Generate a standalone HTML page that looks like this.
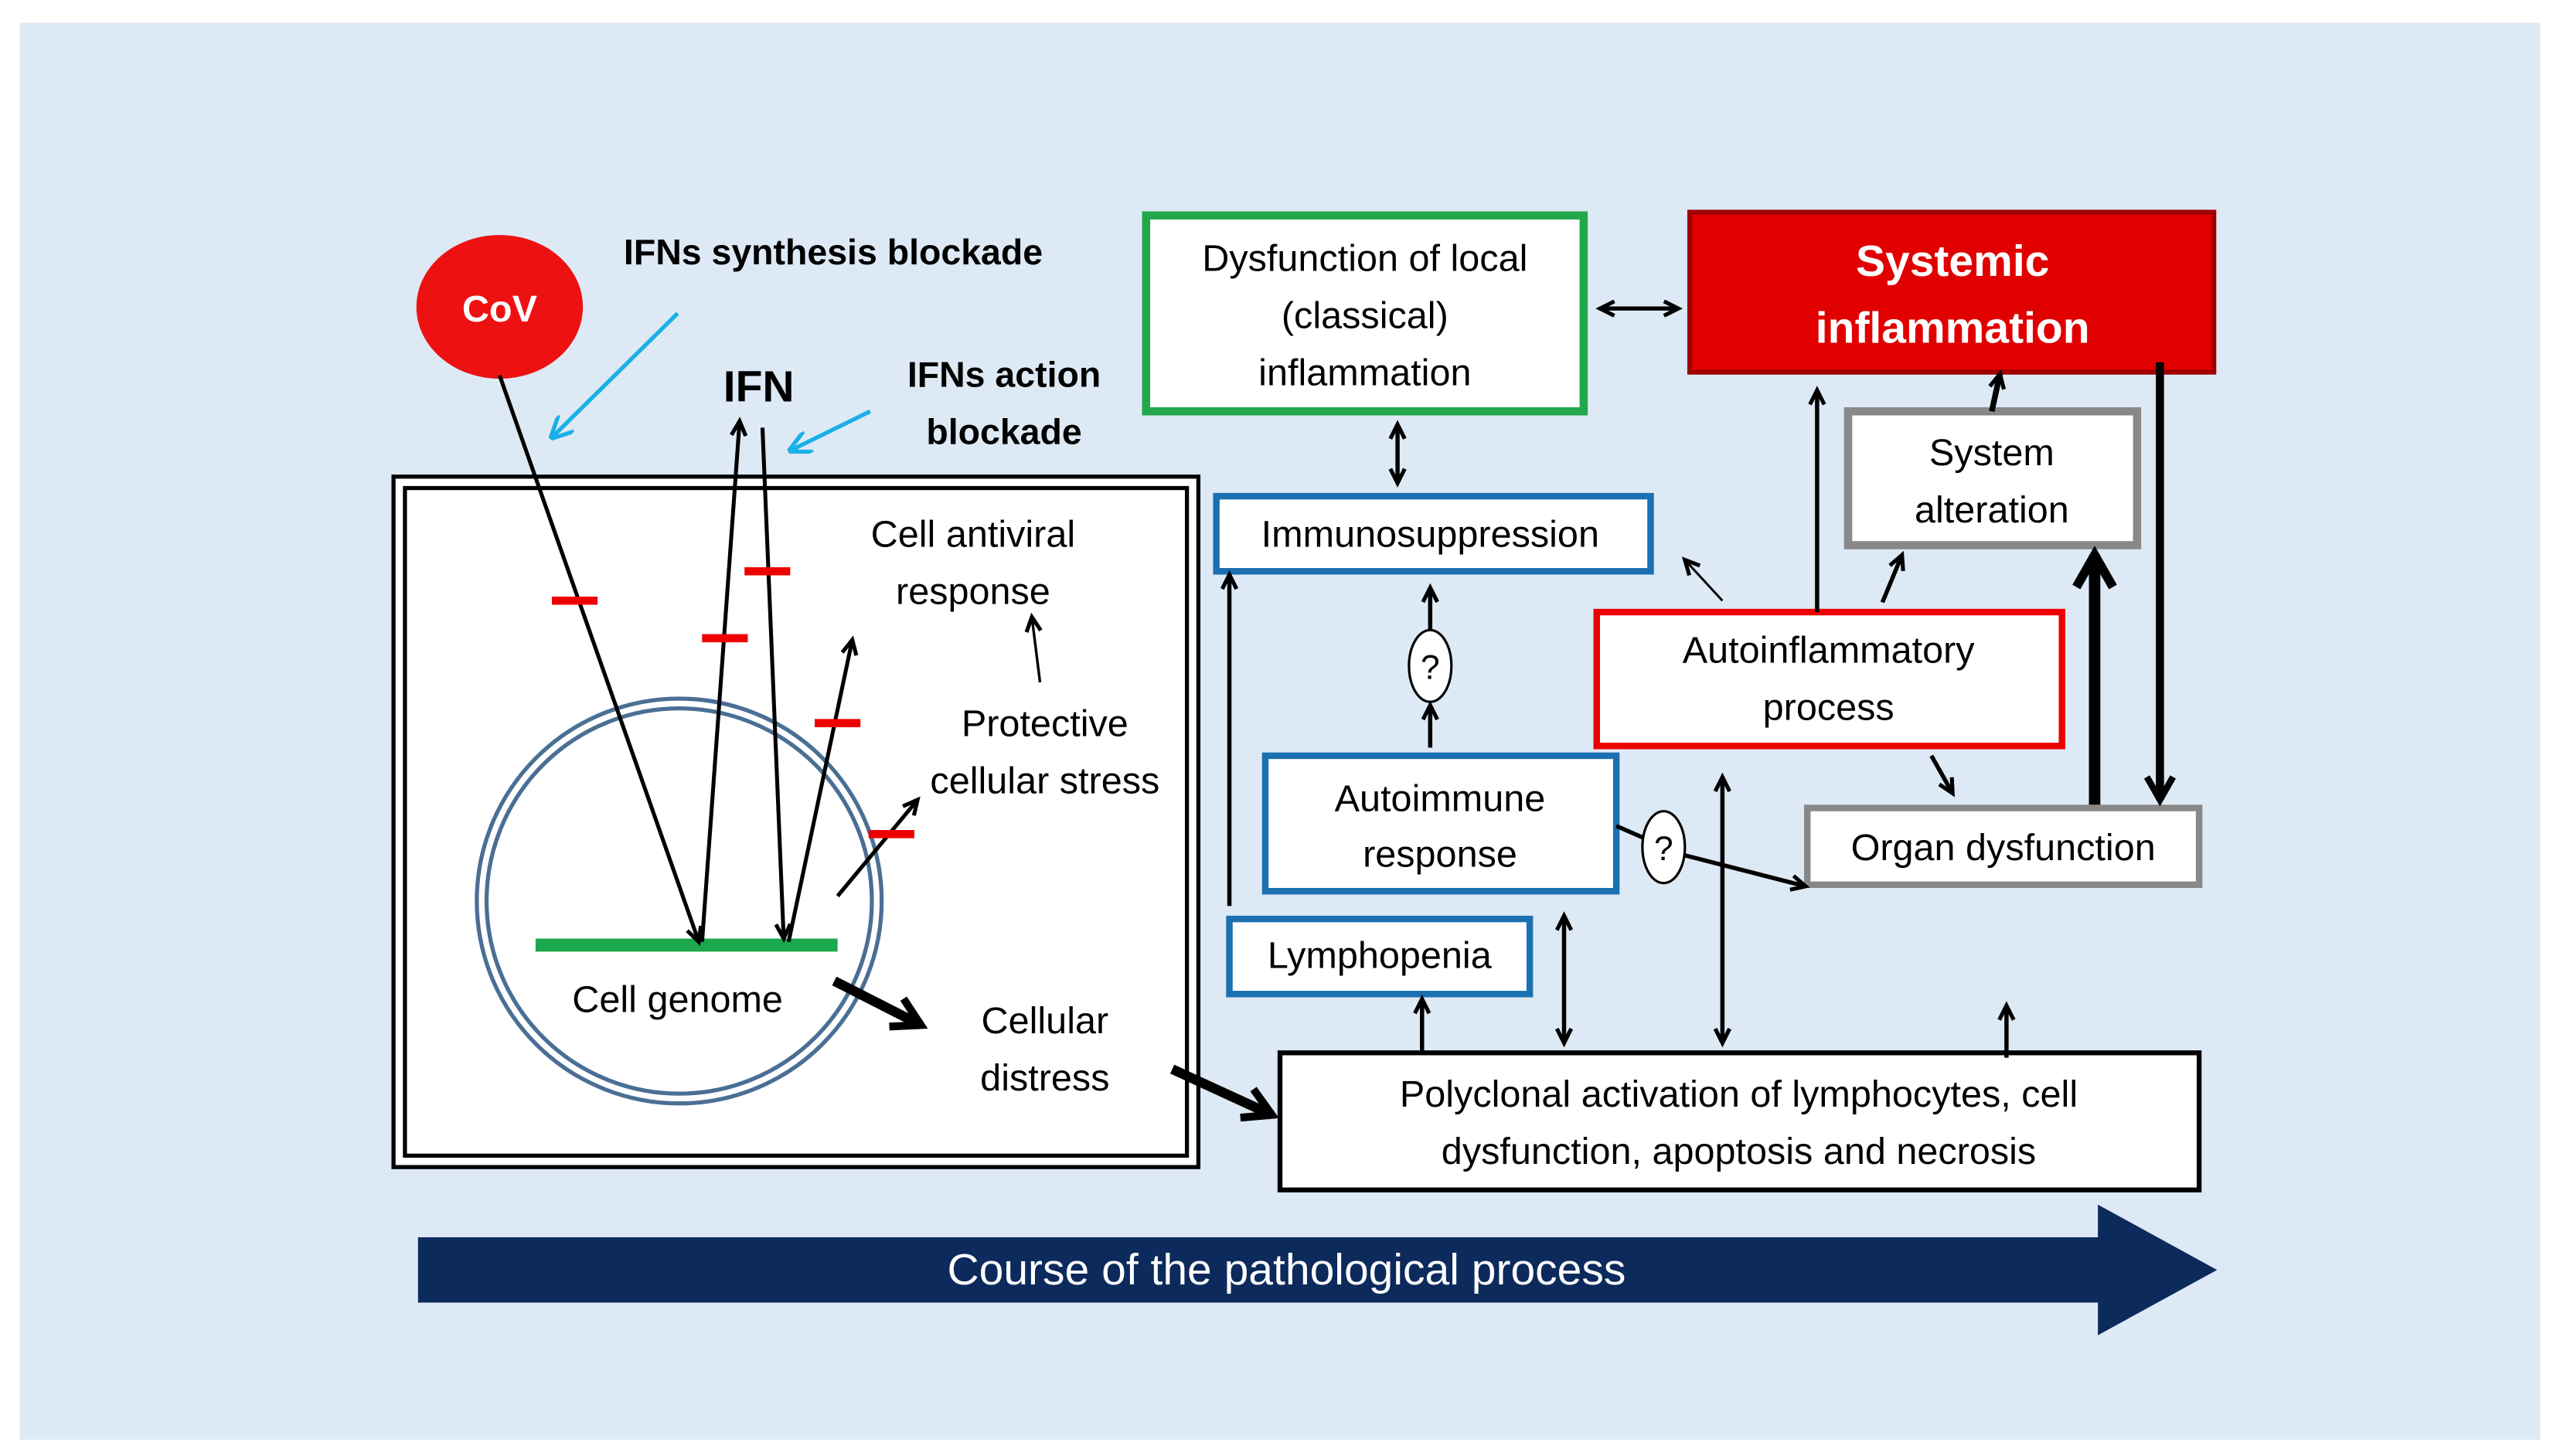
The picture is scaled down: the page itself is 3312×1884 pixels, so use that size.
<!DOCTYPE html>
<html><head><meta charset="utf-8"><style>
html,body{margin:0;padding:0;background:#fff;}
svg{display:block;}
text{font-family:"Liberation Sans",sans-serif;fill:#000;}
</style></head><body>
<svg width="3312" height="1884" viewBox="0 0 1568 892" xmlns="http://www.w3.org/2000/svg">
<defs>
<marker id="a" viewBox="0 0 10 10" refX="9" refY="5" markerWidth="11" markerHeight="11" orient="auto-start-reverse" markerUnits="userSpaceOnUse" style="overflow:visible"><path d="M1,1 L9,5 L1,9" fill="none" stroke="#000" stroke-width="2.2"/></marker>
<marker id="c" viewBox="0 0 10 10" refX="9" refY="5" markerWidth="14" markerHeight="14" orient="auto" markerUnits="userSpaceOnUse"><path d="M0,0 L10,5 L0,10" fill="none" stroke="#1ab0e8" stroke-width="1.8"/></marker>
<marker id="t" viewBox="0 0 10 10" refX="8" refY="5" markerWidth="4" markerHeight="4" orient="auto" markerUnits="strokeWidth"><path d="M1,1 L8,5 L1,9" fill="none" stroke="#000" stroke-width="2"/></marker>
</defs>
<rect x="12" y="14" width="1544" height="868" fill="#dde9f5"/>

<ellipse cx="306" cy="188" rx="51" ry="44" fill="#ee1111"/>
<text x="306" y="197" font-size="23" font-weight="bold" text-anchor="middle" style="fill:#fff">CoV</text>
<text x="382" y="162" font-size="22" font-weight="bold">IFNs synthesis  blockade</text>
<text x="443" y="246" font-size="27" font-weight="bold">IFN</text>
<text x="615" y="237" font-size="22" font-weight="bold" text-anchor="middle">IFNs action</text>
<text x="615" y="272" font-size="22" font-weight="bold" text-anchor="middle">blockade</text>
<line x1="415" y1="192" x2="338" y2="268" stroke="#1ab0e8" stroke-width="2.5" marker-end="url(#c)"/>
<line x1="533" y1="252" x2="484" y2="276" stroke="#1ab0e8" stroke-width="2.5" marker-end="url(#c)"/>

<rect x="241" y="292" width="493" height="423" fill="#fff" stroke="#000" stroke-width="2.5"/>
<rect x="248" y="299" width="479" height="409" fill="none" stroke="#000" stroke-width="2.5"/>
<circle cx="416" cy="552" r="124" fill="none" stroke="#4a6f95" stroke-width="2.5"/>
<circle cx="416" cy="552" r="118" fill="none" stroke="#4a6f95" stroke-width="2.5"/>
<line x1="328" y1="579" x2="513" y2="579" stroke="#1ca84c" stroke-width="8"/>
<text x="415" y="620" font-size="23" text-anchor="middle">Cell genome</text>

<g stroke="#000" stroke-width="2.4" fill="none">
<line x1="306" y1="230" x2="428" y2="577" marker-end="url(#a)"/>
<line x1="430" y1="577" x2="453" y2="258" marker-end="url(#a)"/>
<line x1="467" y1="262" x2="480" y2="575" marker-end="url(#a)"/>
<line x1="483" y1="577" x2="522" y2="392" marker-end="url(#a)"/>
<line x1="513" y1="549" x2="562" y2="490" marker-end="url(#a)"/>
<line x1="637" y1="418" x2="632" y2="378" stroke-width="1.6" marker-end="url(#a)"/>
</g>
<g stroke="#e00" stroke-width="5">
<line x1="338" y1="368" x2="366" y2="368"/>
<line x1="430" y1="391" x2="458" y2="391"/>
<line x1="456" y1="350" x2="484" y2="350"/>
<line x1="499" y1="443" x2="527" y2="443"/>
<line x1="532" y1="511" x2="560" y2="511"/>
</g>
<g font-size="23" text-anchor="middle">
<text x="596" y="335">Cell antiviral</text>
<text x="596" y="370">response</text>
<text x="640" y="451">Protective</text>
<text x="640" y="486">cellular stress</text>
<text x="640" y="633">Cellular</text>
<text x="640" y="668">distress</text>
</g>
<line x1="511" y1="601" x2="564" y2="628" stroke="#000" stroke-width="6" marker-end="url(#t)"/>
<line x1="718" y1="655" x2="779" y2="683" stroke="#000" stroke-width="6" marker-end="url(#t)"/>

<rect x="784" y="645" width="563" height="84" fill="#fff" stroke="#000" stroke-width="3"/>
<text x="1065" y="678" font-size="23" text-anchor="middle">Polyclonal activation of lymphocytes, cell</text>
<text x="1065" y="713" font-size="23" text-anchor="middle">dysfunction, apoptosis and necrosis</text>

<rect x="702" y="132" width="268" height="120" fill="#fff" stroke="#22a84a" stroke-width="5"/>
<text x="836" y="166" font-size="23" text-anchor="middle">Dysfunction of local</text>
<text x="836" y="201" font-size="23" text-anchor="middle">(classical)</text>
<text x="836" y="236" font-size="23" text-anchor="middle">inflammation</text>

<rect x="1035" y="130" width="321" height="98" fill="#e00000" stroke="#a00000" stroke-width="3"/>
<text x="1196" y="169" font-size="27" font-weight="bold" text-anchor="middle" style="fill:#fff">Systemic</text>
<text x="1196" y="210" font-size="27" font-weight="bold" text-anchor="middle" style="fill:#fff">inflammation</text>

<rect x="745" y="304" width="266" height="46" fill="#fff" stroke="#1a70b0" stroke-width="4"/>
<text x="876" y="335" font-size="23" text-anchor="middle">Immunosuppression</text>

<rect x="775" y="463" width="215" height="83" fill="#fff" stroke="#1a70b0" stroke-width="4"/>
<text x="882" y="497" font-size="23" text-anchor="middle">Autoimmune</text>
<text x="882" y="531" font-size="23" text-anchor="middle">response</text>

<rect x="753" y="563" width="184" height="46" fill="#fff" stroke="#1a70b0" stroke-width="4"/>
<text x="845" y="593" font-size="23" text-anchor="middle">Lymphopenia</text>

<rect x="978" y="375" width="285" height="82" fill="#fff" stroke="#e00" stroke-width="4"/>
<text x="1120" y="406" font-size="23" text-anchor="middle">Autoinflammatory</text>
<text x="1120" y="441" font-size="23" text-anchor="middle">process</text>

<rect x="1132" y="252" width="177" height="82" fill="#fff" stroke="#888" stroke-width="5"/>
<text x="1220" y="285" font-size="23" text-anchor="middle">System</text>
<text x="1220" y="320" font-size="23" text-anchor="middle">alteration</text>

<rect x="1107" y="495" width="240" height="47" fill="#fff" stroke="#888" stroke-width="4"/>
<text x="1227" y="527" font-size="23" text-anchor="middle">Organ dysfunction</text>

<ellipse cx="876" cy="408" rx="13" ry="22" fill="#fff" stroke="#000" stroke-width="1.5"/>
<text x="876" y="416" font-size="21" text-anchor="middle">?</text>
<ellipse cx="1019" cy="519" rx="13" ry="22" fill="#fff" stroke="#000" stroke-width="1.5"/>
<text x="1019" y="527" font-size="21" text-anchor="middle">?</text>

<g stroke="#000" stroke-width="2.6" fill="none">
<line x1="980" y1="189" x2="1028" y2="189" marker-start="url(#a)" marker-end="url(#a)"/>
<line x1="856" y1="260" x2="856" y2="296" marker-start="url(#a)" marker-end="url(#a)"/>
<line x1="876" y1="458" x2="876" y2="432" marker-end="url(#a)"/>
<line x1="876" y1="386" x2="876" y2="360" marker-end="url(#a)"/>
<line x1="753" y1="555" x2="753" y2="352" marker-end="url(#a)"/>
<line x1="871" y1="645" x2="871" y2="612" marker-end="url(#a)"/>
<line x1="958" y1="561" x2="958" y2="639" marker-start="url(#a)" marker-end="url(#a)"/>
<line x1="1055" y1="476" x2="1055" y2="639" marker-start="url(#a)" marker-end="url(#a)"/>
<line x1="1229" y1="648" x2="1229" y2="616" marker-end="url(#a)"/>
<line x1="1055" y1="368" x2="1032" y2="343" stroke-width="1.4" marker-end="url(#a)"/>
<line x1="1113" y1="375" x2="1113" y2="239" marker-end="url(#a)"/>
<line x1="1153" y1="369" x2="1165" y2="340" marker-end="url(#a)"/>
<line x1="1220" y1="252" x2="1225" y2="229" stroke-width="3.5" marker-end="url(#a)"/>
<line x1="990" y1="506" x2="1006" y2="513"/>
<line x1="1032" y1="524" x2="1106" y2="543" marker-end="url(#a)"/>
<line x1="1183" y1="463" x2="1196" y2="486" marker-end="url(#a)"/>
</g>
<line x1="1283" y1="493" x2="1283" y2="340" stroke="#000" stroke-width="7" marker-end="url(#t)"/>
<line x1="1323" y1="222" x2="1323" y2="490" stroke="#000" stroke-width="5" marker-end="url(#t)"/>

<polygon points="256,758 1285,758 1285,738 1358,778 1285,818 1285,798 256,798" fill="#0d2a5c"/>
<text x="788" y="787" font-size="27" text-anchor="middle" style="fill:#fff">Course of the pathological process</text>
</svg>
</body></html>
